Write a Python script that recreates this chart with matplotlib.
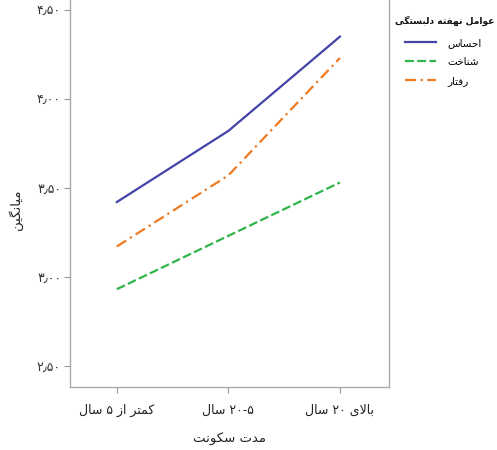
import matplotlib
matplotlib.use("Agg")
import matplotlib.pyplot as plt

# ---------------- data ----------------
categories = ["کمتر از ۵ سال", "۲۰-۵ سال", "بالای ۲۰ سال"]
series_names = ["احساس", "شناخت", "رفتار"]
ehsas = [3.42, 3.82, 4.35]
shenakht = [2.93, 3.23, 3.53]
raftar = [3.17, 3.57, 4.23]
y_ticks = [2.50, 3.00, 3.50, 4.00, 4.50]
x_title = "مدت سکونت"
y_title = "میانگین"
legend_title = "عوامل نهفته دلبستگی"

# ---------------- simple Arabic/Persian shaping ----------------
FORMS = {
    "ا": ("\uFE8D", "\uFE8E", None, None),
    "ب": ("\uFE8F", "\uFE90", "\uFE91", "\uFE92"),
    "ت": ("\uFE95", "\uFE96", "\uFE97", "\uFE98"),
    "ح": ("\uFEA1", "\uFEA2", "\uFEA3", "\uFEA4"),
    "خ": ("\uFEA5", "\uFEA6", "\uFEA7", "\uFEA8"),
    "د": ("\uFEA9", "\uFEAA", None, None),
    "ر": ("\uFEAD", "\uFEAE", None, None),
    "ز": ("\uFEAF", "\uFEB0", None, None),
    "س": ("\uFEB1", "\uFEB2", "\uFEB3", "\uFEB4"),
    "ش": ("\uFEB5", "\uFEB6", "\uFEB7", "\uFEB8"),
    "ع": ("\uFEC9", "\uFECA", "\uFECB", "\uFECC"),
    "ف": ("\uFED1", "\uFED2", "\uFED3", "\uFED4"),
    "ل": ("\uFEDD", "\uFEDE", "\uFEDF", "\uFEE0"),
    "م": ("\uFEE1", "\uFEE2", "\uFEE3", "\uFEE4"),
    "ن": ("\uFEE5", "\uFEE6", "\uFEE7", "\uFEE8"),
    "ه": ("\uFEE9", "\uFEEA", "\uFEEB", "\uFEEC"),
    "و": ("\uFEED", "\uFEEE", None, None),
    "ک": ("\uFB8E", "\uFB8F", "\uFB90", "\uFB91"),
    "گ": ("\uFB92", "\uFB93", "\uFB94", "\uFB95"),
    "ی": ("\uFBFC", "\uFBFD", "\uFBFE", "\uFBFF"),
}


def dual(c):
    return c in FORMS and FORMS[c][2] is not None


def shape_word(word):
    chars = list(word)
    out = []
    i = 0
    while i < len(chars):
        c = chars[i]
        if c not in FORMS:
            out.append(c)
            i += 1
            continue
        prev = chars[i - 1] if i > 0 else None
        join_prev = prev is not None and dual(prev)
        if c == "ل" and i + 1 < len(chars) and chars[i + 1] == "ا":
            out.append("\uFEFC" if join_prev else "\uFEFB")
            i += 2
            continue
        nxt = chars[i + 1] if i + 1 < len(chars) else None
        join_next = dual(c) and nxt is not None and nxt in FORMS
        iso, fin, ini, med = FORMS[c]
        if join_prev and join_next:
            g = med
        elif join_prev:
            g = fin
        elif join_next:
            g = ini
        else:
            g = iso
        out.append(g)
        i += 1
    if any(ch in FORMS for ch in word):
        out = out[::-1]
    return "".join(out)


def fa(text):
    # right-to-left: words in reverse visual order, each word shaped
    return " ".join(shape_word(w) for w in text.split(" ")[::-1])


FA_DIGITS = str.maketrans("0123456789.", "۰۱۲۳۴۵۶۷۸۹٫")


def fa_num(v):
    return f"{v:.2f}".translate(FA_DIGITS)


plt.rcParams["font.family"] = ["DejaVu Sans"]

fig = plt.figure(figsize=(4.97, 4.5), dpi=100)
ax = fig.add_axes([70 / 497, 63 / 450, 319 / 497, 387 / 450])

x = list(range(len(categories)))
l1, = ax.plot(x, ehsas, color="#4343a8", lw=1.6, ls="-")
l2, = ax.plot(x, shenakht, color="#2fb54a", lw=1.6, ls=(0, (4, 1.5)))
l3, = ax.plot(x, raftar, color="#ee7a22", lw=1.6, ls=(0, (5, 2, 1, 2)))

ax.set_xlim(-0.42, 2.44)
ax.set_ylim(2.38, 4.556)
ax.set_yticks(y_ticks)
ax.set_yticklabels([fa_num(v) for v in y_ticks], fontsize=9, color="#333333")
ax.set_xticks(x)
ax.set_xticklabels([fa(c) for c in categories], fontsize=9, color="#222222")
ax.tick_params(axis="both", length=4, color="#999999", width=0.8)
ax.tick_params(axis="x", pad=8)
ax.tick_params(axis="y", pad=2.5)

for s in ["left", "bottom", "right"]:
    ax.spines[s].set_color("#aaaaaa")
    ax.spines[s].set_linewidth(1.0)
ax.spines["top"].set_visible(False)

ax.set_xlabel(fa(x_title), fontsize=9.5, labelpad=12, color="#222222")
ax.set_ylabel(fa(y_title), fontsize=9.5, color="#222222")
ax.yaxis.set_label_coords(-0.148, 0.457)

fig.text(395 / 497, 1 - 21 / 450, fa(legend_title), fontsize=6.6,
         fontweight="bold", ha="left", va="center", color="#111111")

leg = fig.legend([l1, l2, l3], [fa(s) for s in series_names],
                 loc="upper left", bbox_to_anchor=(405 / 497, 1 - 38 / 450),
                 frameon=False, fontsize=7.5, handlelength=3.0,
                 labelspacing=0.85, borderaxespad=0, handletextpad=1.1,
                 borderpad=0)

fig.savefig("out.png", dpi=100)
